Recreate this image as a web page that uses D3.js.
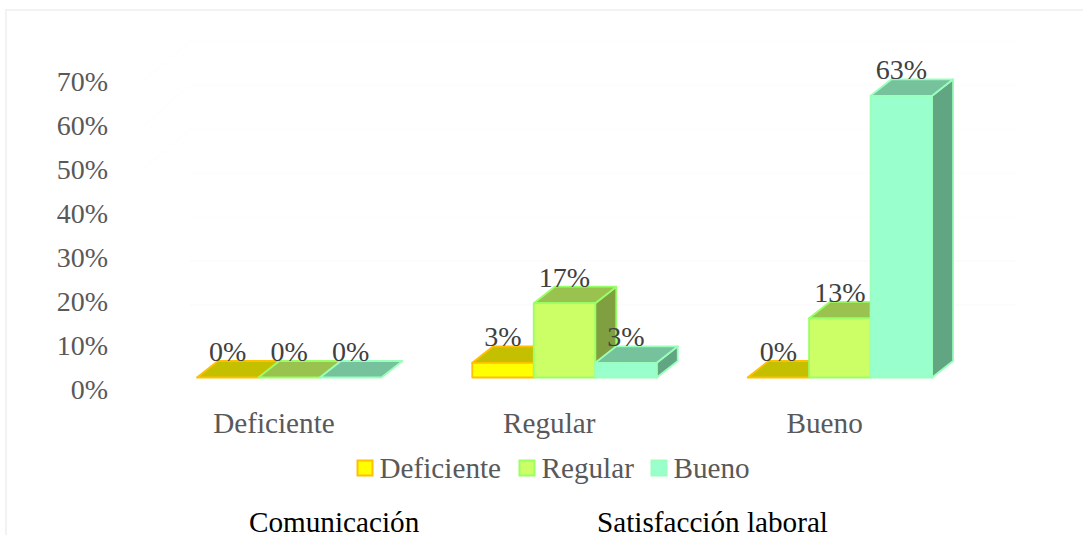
<!DOCTYPE html>
<html><head><meta charset="utf-8">
<style>html,body{margin:0;padding:0;background:#fff;overflow:hidden}svg{display:block}text{font-family:"Liberation Serif",serif}</style>
<script src="https://cdn.jsdelivr.net/npm/d3@7"></script></head>
<body><svg id="c" width="1083" height="535"></svg>
<script>
const categories = ["Deficiente","Regular","Bueno"];
const seriesNames = ["Deficiente","Regular","Bueno"];
const deficienteValues = [0, 3.3, 0];
const regularValues = [0, 16.7, 13.3];
const buenoValues = [0, 3.3, 63.3];
const tickValues = [0,10,20,30,40,50,60,70];
const wallLevels = [20,30,40,50,60,70,80];
const footLabels = ["Comunicación","Satisfacción laboral"];

const values = [deficienteValues, regularValues, buenoValues];
const front = ["#ffff00","#ccff66","#99ffcc"];
const topC = ["#c4c000","#9ac24f","#75c29c"];
const side = ["#a3a000","#7f9f40","#61a583"];
const edge = ["#ffc000","#99ff66","#99ffbb"];
const DX = 21, DY = 16.5, FS = 28, FL = 29.2;

const svg = d3.select("#c");
// plot frame: top and left edges only are visible
svg.append("path").attr("d","M6,535V10H1083").attr("fill","none").attr("stroke","#f2f2f2").attr("stroke-width",2);

const yAxisScale = d3.scaleLinear().domain([0,70]).range([389,81]);
const yBar = d3.scaleLinear().domain([0,70]).range([377.5,66]);
const x0 = d3.scaleBand().domain(categories).range([151.5,977.5]);
const x1 = d3.scaleBand().domain(seriesNames).range([-92.25,92.25]);

// faint wall gridlines
const wall = svg.append("g").attr("fill","none").attr("stroke-width",1);
wall.selectAll("path").data(wallLevels).join("path")
  .attr("d",d=>{const y=yAxisScale(d)+4;return `M190,${y}H1015`;})
  .attr("stroke",d=>d<=30?"#f9f9f9":"#fcfcfc");
wall.selectAll("line").data(wallLevels.filter(d=>d>=60)).join("line")
  .attr("x1",144).attr("x2",190)
  .attr("y1",d=>yAxisScale(d)+44).attr("y2",d=>yAxisScale(d)+4)
  .attr("stroke","#fdfdfd");

// value axis
const ax = svg.append("g").attr("transform","translate(108,0)")
  .call(d3.axisLeft(yAxisScale).tickValues(tickValues).tickFormat(d=>d+"%").tickSize(0).tickPadding(0));
ax.select(".domain").remove();
ax.selectAll("text").attr("font-size",FS).attr("fill","#595959").attr("font-family","Liberation Serif").attr("dy","0.33em");

// bars
const bars = [];
categories.forEach((c,i)=>seriesNames.forEach((s,j)=>bars.push({c,s,j,v:values[j][i]})));
const g = svg.append("g");
const poly = pts => d3.line()(pts)+"Z";
bars.forEach(b=>{
  const xl = x0(b.c)+x0.bandwidth()/2+x1(b.s), xr = xl+x1.bandwidth();
  const yt = yBar(b.v), yb = yBar(0);
  b.cx=(xl+xr)/2; b.labelY=yt-DY;
  const add=(pts,fill)=>g.append("path").attr("d",poly(pts)).attr("fill",fill)
    .attr("stroke",edge[b.j]).attr("stroke-width",1.8).attr("stroke-linejoin","round");
  if(b.v>0) add([[xr,yb],[xr+DX,yb-DY],[xr+DX,yt-DY],[xr,yt]],side[b.j]);
  add([[xl,yt],[xl+DX,yt-DY],[xr+DX,yt-DY],[xr,yt]],topC[b.j]);
  if(b.v>0) add([[xl,yb],[xr,yb],[xr,yt],[xl,yt]],front[b.j]);
});

// data labels
svg.append("g").selectAll("text").data(bars).join("text")
  .attr("x",d=>d.cx).attr("y",d=>d.labelY).attr("text-anchor","middle")
  .attr("font-size",FS).attr("fill","#404040")
  .text(d=>d3.format(".0f")(d.v)+"%");

// category labels
svg.append("g").selectAll("text").data(categories).join("text")
  .attr("x",d=>x0(d)+x0.bandwidth()/2-15.2).attr("y",433).attr("text-anchor","middle")
  .attr("font-size",FL).attr("fill","#595959").text(d=>d);

// legend
const legX = d3.scaleOrdinal().domain(seriesNames).range([357.5,519.5,651.5]);
const lg = svg.append("g").selectAll("g").data(seriesNames).join("g")
  .attr("transform",d=>`translate(${legX(d)},460.5)`);
lg.append("rect").attr("width",15).attr("height",15)
  .attr("fill",(d,i)=>front[i]).attr("stroke",(d,i)=>edge[i]).attr("stroke-width",2);
lg.append("text").attr("x",22).attr("y",17).attr("font-size",FL).attr("fill","#595959").text(d=>d);

// footer text
svg.append("g").selectAll("text").data(footLabels).join("text")
  .attr("x",(d,i)=>[249,597][i]).attr("y",532).attr("font-size",FL).attr("fill","#000").text(d=>d);
</script></body></html>
